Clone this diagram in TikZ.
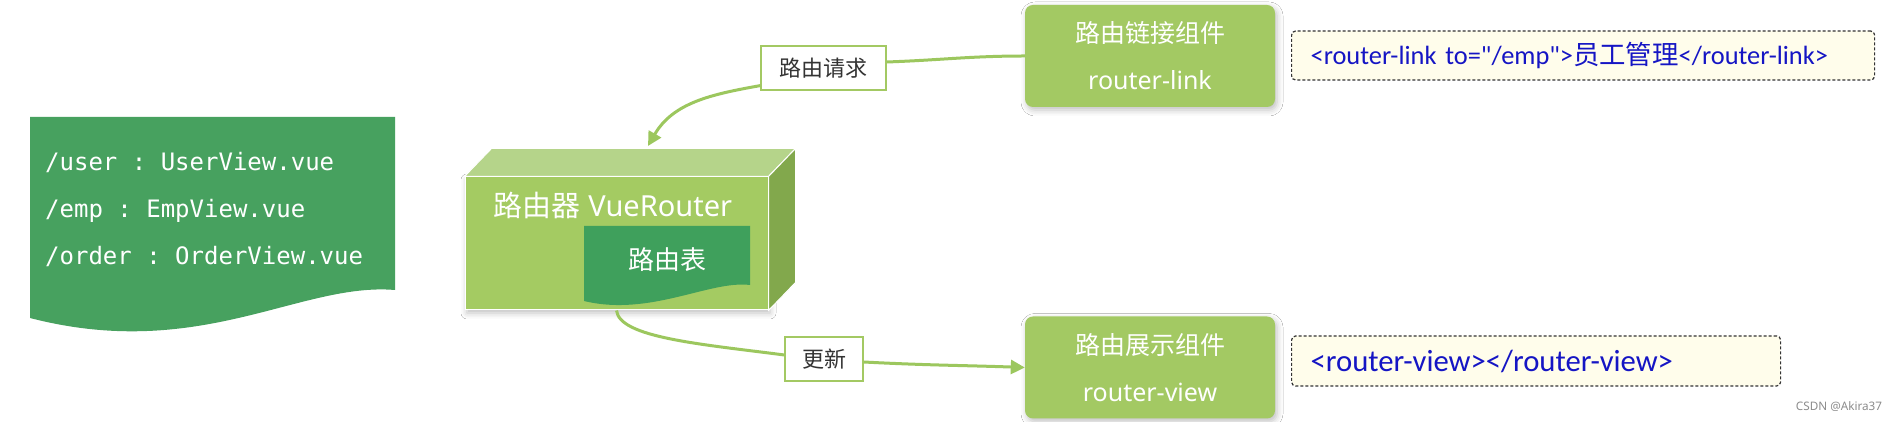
\documentclass[tikz,border=0pt]{standalone}
\usepackage{fontspec}
\setmainfont{Noto Sans}
\setmonofont{DejaVu Sans Mono}
\newfontfamily\cjk{Noto Sans CJK SC}
\newfontfamily\codefont{Carlito}
\usetikzlibrary{positioning,arrows.meta,shadows.blur}
\definecolor{nodegreen}{HTML}{A3C963}
\definecolor{frontgreen}{HTML}{A4CB62}
\definecolor{topgreen}{HTML}{B5D48A}
\definecolor{sidegreen}{HTML}{82A84C}
\definecolor{docgreen}{HTML}{47A15F}
\definecolor{tablegreen}{HTML}{3FA05C}
\definecolor{linegreen}{HTML}{9CC75E}
\definecolor{cream}{HTML}{FFFDEB}
\definecolor{codeblue}{HTML}{1515C4}

\begin{document}
\begin{tikzpicture}[x=1pt,y=1pt,
    conn/.style={draw=linegreen, line width=3pt},
    arr/.style={conn, -{Triangle[length=14pt,width=14pt]}},
    softshadow/.style={blur shadow={shadow xshift=2pt, shadow yshift=-3pt, shadow blur radius=6pt, shadow opacity=25}},
    compbox/.style={fill=nodegreen, rounded corners=8pt, minimum width=250pt, minimum height=102pt, text=white, align=center, font=\fontsize{25}{47}\selectfont, softshadow},
    lbl/.style={draw=nodegreen, line width=1.2pt, fill=white, text=black!80, minimum height=44pt, font=\cjk\fontsize{22}{26}\selectfont},
    codebox/.style={draw=black!80, dash pattern=on 3pt off 2pt, line width=1.2pt, rounded corners=4pt, fill=cream, text=codeblue, align=left, inner xsep=19pt, anchor=west}]
    \fill[white] (0,0) rectangle (1900,422);

    % route table
    \fill[docgreen] (30,305) -- (395,305) -- (395,132) .. controls (300,140) and (200,60) .. (30,104) -- cycle;
    \node[anchor=west, inner sep=0, align=left, text=white, font=\ttfamily\fontsize{24}{47}\selectfont] (routes) at (45,212) {/user : UserView.vue\\/emp : EmpView.vue\\/order : OrderView.vue};

    % router box
    \node[draw=white, line width=1pt, fill=frontgreen, minimum width=303pt, minimum height=133pt, inner sep=0, softshadow] (router) at (616.5,178.5) {};
    \filldraw[draw=white, line width=1pt, fill=topgreen] (router.north west) -- ++(27,28) -- ([shift={(27,28)}]router.north east) -- (router.north east) -- cycle;
    \filldraw[draw=white, line width=1pt, fill=sidegreen] (router.north east) -- ++(27,28) -- ([shift={(27,28)}]router.south east) -- (router.south east) -- cycle;
    \node[text=white, font=\fontsize{29}{34}\selectfont] (rname) at (613,217) {{\cjk 路由器} VueRouter};
    \fill[tablegreen] (584,196) -- (750,196) -- (750,137) .. controls (710,142) and (650,105) .. (584,121) -- cycle;
    \node[text=white, font=\cjk\fontsize{26}{30}\selectfont] (rtable) at (667,162) {路由表};
    \coordinate (rtop) at (648,276);

    \node[compbox] (link) at (1150,366) {{\cjk 路由链接组件}\\router-link};
    \node[compbox] (view) at (1150,54.5) {{\cjk 路由展示组件}\\router-view};
    \node[lbl, minimum width=125pt] (req) at (823.5,354) {路由请求};
    \node[lbl, minimum width=78pt] (upd) at (824,63) {更新};

    \draw[conn] (link.west) to[out=180,in=2] ([yshift=6]req.east);
    \draw[arr] ([yshift=5]req.south west) to[out=190,in=60] (rtop);
    \draw[conn] (router.south) .. controls +(3,-27) and +(-85,11) .. ([yshift=4]upd.west);
    \draw[arr] ([yshift=-3]upd.east) to[out=-3,in=178] (view.west);

    \node[codebox, minimum width=583pt, text width=545pt, minimum height=49pt, font=\codefont\fontsize{26.4}{30}\selectfont] (linkcode) at (1291,366.5) {<router-link to="/emp">{\cjk 员工管理}</router-link>};
    \node[codebox, minimum width=489pt, text width=451pt, minimum height=50pt, font=\codefont\fontsize{30.7}{34}\selectfont] (viewcode) at (1291,61) {<router-view></router-view>};

    \node[text=black!45, font=\fontsize{11.7}{14}\selectfont] (mark) at (1839,15) {CSDN @Akira37};
\end{tikzpicture}
\end{document}
